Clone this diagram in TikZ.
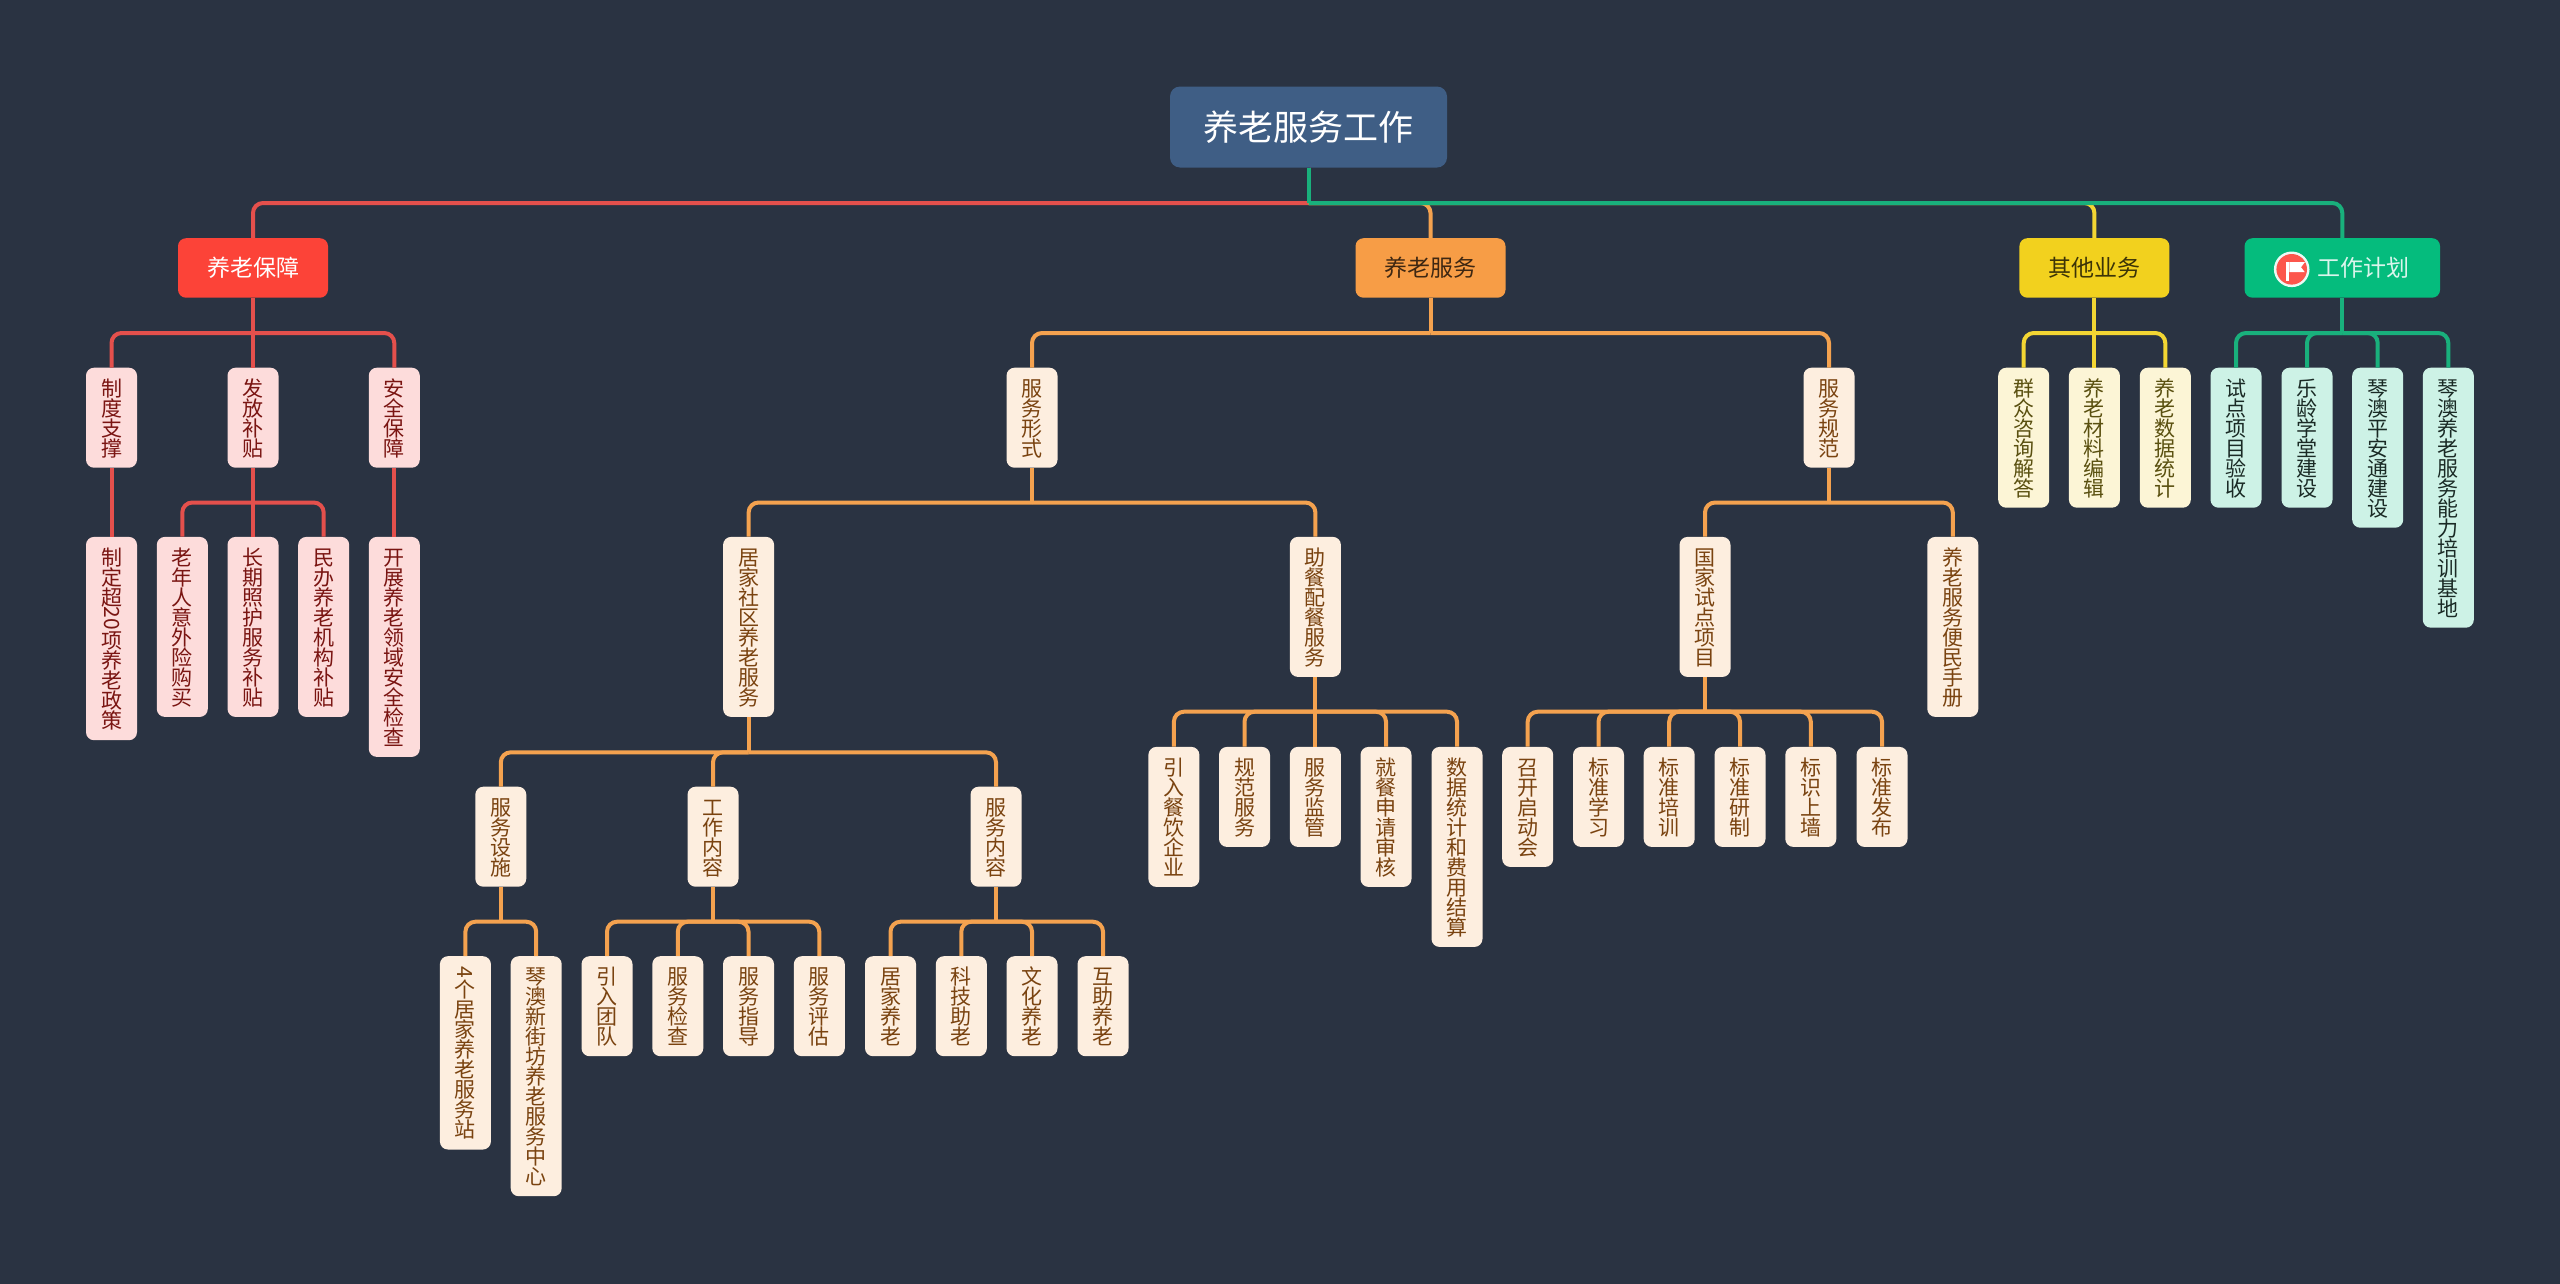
\documentclass[tikz,border=0pt]{standalone}
\usepackage{fontspec}
\setmainfont{Noto Sans CJK SC}
\makeatletter
\newcommand\vc[1]{\@tfor\vt@c:=#1\do{\hbox to 20pt{\hss\vrule width 0pt height 18.3pt depth 1.7pt\smash{\vt@c}\hss}}}
\makeatother
\newcommand\rotv[1]{\hbox to 20pt{\hss\rotatebox[origin=c]{-90}{#1}\hss}}
\newcommand\vs[1]{\vbox{\offinterlineskip #1}}
\newcommand\conn[4]{\draw[#1,sharp corners] (#2.south) -- (#2.south |- 0,#4);\draw[#1] (#2.south |- 0,#4) -- (#3.north |- 0,#4) -- (#3.north);}
\definecolor{bgc}{HTML}{2A3342}
\definecolor{rootc}{HTML}{3F5E85}
\definecolor{redn}{HTML}{FC4338}
\definecolor{orgn}{HTML}{F79D46}
\definecolor{yeln}{HTML}{F2D11E}
\definecolor{grnn}{HTML}{05BC7D}
\definecolor{redl}{HTML}{E4504C}
\definecolor{orgl}{HTML}{F4A24F}
\definecolor{yell}{HTML}{F3D633}
\definecolor{grnl}{HTML}{19B07C}
\definecolor{leafr}{HTML}{FDDCDB}
\definecolor{leafrt}{HTML}{7A1512}
\definecolor{leafo}{HTML}{FDEEDF}
\definecolor{leafot}{HTML}{7A4310}
\definecolor{leafy}{HTML}{FCF5D6}
\definecolor{leafyt}{HTML}{5A5010}
\definecolor{leafg}{HTML}{CDF2E6}
\definecolor{leafgt}{HTML}{1A2A25}
\tikzset{
  x=1pt,y=-1pt,
  rootbox/.style={fill=rootc,text=white,rounded corners=10pt,minimum width=277pt,minimum height=81pt,inner sep=0pt,font=\fontsize{35}{35}\selectfont},
  mainbox/.style={rounded corners=8pt,minimum width=150pt,minimum height=59.5pt,inner sep=0pt,anchor=north,font=\fontsize{23}{23}\selectfont},
  leafbox/.style={rounded corners=8pt,minimum width=51pt,inner xsep=0pt,inner ysep=10pt,anchor=north,font=\fontsize{21}{20}\selectfont},
  lfr/.style={leafbox,fill=leafr,text=leafrt},
  lfo/.style={leafbox,fill=leafo,text=leafot},
  lfy/.style={leafbox,fill=leafy,text=leafyt},
  lfg/.style={leafbox,fill=leafg,text=leafgt},
  linkr/.style={redl,line width=4pt,rounded corners=10pt},
  linko/.style={orgl,line width=4pt,rounded corners=10pt},
  linky/.style={yell,line width=4pt,rounded corners=10pt},
  linkg/.style={grnl,line width=4pt,rounded corners=10pt},
}
\begin{document}
\begin{tikzpicture}
\useasboundingbox (0,0) rectangle (2560,1283);
\fill[bgc] (-3,-3) rectangle (2563,1286);
% root and main
\node[rootbox] (root) at (1308.5,127) {养老服务工作};
\node[mainbox,fill=redn,text=white] (ma) at (253,238) {养老保障};
\node[mainbox,fill=orgn,text=black!75!orgn] (mb) at (1430.5,238) {养老服务};
\node[mainbox,fill=yeln,text=black!75!yeln] (mc) at (2094.4,238) {其他业务};
\node[mainbox,fill=grnn,text=white!85!grnn,minimum width=195.5pt] (md) at (2342.3,238) {\hspace*{42.4pt}工作计划};
% red
\node[lfr] (a1) at (111.5,367.5) {\vs{\vc{制度支撑}}};
\node[lfr] (a2) at (253,367.5) {\vs{\vc{发放补贴}}};
\node[lfr] (a3) at (394.3,367.5) {\vs{\vc{安全保障}}};
\node[lfr] (a11) at (111.5,536.7) {\vs{\vc{制定超}\rotv{20}\vc{项养老政策}}};
\node[lfr] (a21) at (182.3,536.7) {\vs{\vc{老年人意外险购买}}};
\node[lfr] (a22) at (253,536.7) {\vs{\vc{长期照护服务补贴}}};
\node[lfr] (a23) at (323.7,536.7) {\vs{\vc{民办养老机构补贴}}};
\node[lfr] (a31) at (394.3,536.7) {\vs{\vc{开展养老领域安全检查}}};
% orange
\node[lfo] (b1) at (1032,367.5) {\vs{\vc{服务形式}}};
\node[lfo] (b2) at (1829,367.5) {\vs{\vc{服务规范}}};
\node[lfo] (b11) at (748.6,536.7) {\vs{\vc{居家社区养老服务}}};
\node[lfo] (b12) at (1315.4,536.7) {\vs{\vc{助餐配餐服务}}};
\node[lfo] (b21) at (1705,536.7) {\vs{\vc{国家试点项目}}};
\node[lfo] (b22) at (1952.8,536.7) {\vs{\vc{养老服务便民手册}}};
\node[lfo] (c1) at (500.8,786.5) {\vs{\vc{服务设施}}};
\node[lfo] (c2) at (713,786.5) {\vs{\vc{工作内容}}};
\node[lfo] (c3) at (996,786.5) {\vs{\vc{服务内容}}};
\node[lfo] (c11) at (465.4,956) {\vs{\rotv{4}\vc{个居家养老服务站}}};
\node[lfo] (c12) at (536.2,956) {\vs{\vc{琴澳新街坊养老服务中心}}};
\node[lfo] (c21) at (607,956) {\vs{\vc{引入团队}}};
\node[lfo] (c22) at (677.8,956) {\vs{\vc{服务检查}}};
\node[lfo] (c23) at (748.5,956) {\vs{\vc{服务指导}}};
\node[lfo] (c24) at (819.3,956) {\vs{\vc{服务评估}}};
\node[lfo] (c31) at (890.5,956) {\vs{\vc{居家养老}}};
\node[lfo] (c32) at (961.3,956) {\vs{\vc{科技助老}}};
\node[lfo] (c33) at (1032,956) {\vs{\vc{文化养老}}};
\node[lfo] (c34) at (1103,956) {\vs{\vc{互助养老}}};
\node[lfo] (d1) at (1173.9,746.7) {\vs{\vc{引入餐饮企业}}};
\node[lfo] (d2) at (1244.5,746.7) {\vs{\vc{规范服务}}};
\node[lfo] (d3) at (1315.4,746.7) {\vs{\vc{服务监管}}};
\node[lfo] (d4) at (1386,746.7) {\vs{\vc{就餐申请审核}}};
\node[lfo] (d5) at (1457,746.7) {\vs{\vc{数据统计和费用结算}}};
\node[lfo] (e1) at (1527.7,746.7) {\vs{\vc{召开启动会}}};
\node[lfo] (e2) at (1598.5,746.7) {\vs{\vc{标准学习}}};
\node[lfo] (e3) at (1669.2,746.7) {\vs{\vc{标准培训}}};
\node[lfo] (e4) at (1740,746.7) {\vs{\vc{标准研制}}};
\node[lfo] (e5) at (1810.8,746.7) {\vs{\vc{标识上墙}}};
\node[lfo] (e6) at (1882,746.7) {\vs{\vc{标准发布}}};
% yellow
\node[lfy] (f1) at (2023.7,367.5) {\vs{\vc{群众咨询解答}}};
\node[lfy] (f2) at (2094.4,367.5) {\vs{\vc{养老材料编辑}}};
\node[lfy] (f3) at (2165.3,367.5) {\vs{\vc{养老数据统计}}};
% green
\node[lfg] (g1) at (2236,367.5) {\vs{\vc{试点项目验收}}};
\node[lfg] (g2) at (2307,367.5) {\vs{\vc{乐龄学堂建设}}};
\node[lfg] (g3) at (2377.7,367.5) {\vs{\vc{琴澳平安通建设}}};
\node[lfg] (g4) at (2448.3,367.5) {\vs{\vc{琴澳养老服务能力培训基地}}};
% connectors
\conn{linkr}{root}{ma}{203}
\conn{linko}{root}{mb}{203}
\conn{linky}{root}{mc}{203}
\conn{linkg}{root}{md}{203}
\conn{linkr}{ma}{a1}{333}
\conn{linkr}{ma}{a2}{333}
\conn{linkr}{ma}{a3}{333}
\draw[linkr] (a1) -- (a11);
\draw[linkr] (a3) -- (a31);
\conn{linkr}{a2}{a21}{502.5}
\conn{linkr}{a2}{a22}{502.5}
\conn{linkr}{a2}{a23}{502.5}
\conn{linko}{mb}{b1}{333}
\conn{linko}{mb}{b2}{333}
\conn{linko}{b1}{b11}{502.5}
\conn{linko}{b1}{b12}{502.5}
\conn{linko}{b2}{b21}{502.5}
\conn{linko}{b2}{b22}{502.5}
\conn{linko}{b11}{c1}{752.3}
\conn{linko}{b11}{c2}{752.3}
\conn{linko}{b11}{c3}{752.3}
\conn{linko}{c1}{c11}{921.7}
\conn{linko}{c1}{c12}{921.7}
\conn{linko}{c2}{c21}{921.7}
\conn{linko}{c2}{c22}{921.7}
\conn{linko}{c2}{c23}{921.7}
\conn{linko}{c2}{c24}{921.7}
\conn{linko}{c3}{c31}{921.7}
\conn{linko}{c3}{c32}{921.7}
\conn{linko}{c3}{c33}{921.7}
\conn{linko}{c3}{c34}{921.7}
\conn{linko}{b12}{d1}{711.7}
\conn{linko}{b12}{d2}{711.7}
\conn{linko}{b12}{d3}{711.7}
\conn{linko}{b12}{d4}{711.7}
\conn{linko}{b12}{d5}{711.7}
\conn{linko}{b21}{e1}{711.7}
\conn{linko}{b21}{e2}{711.7}
\conn{linko}{b21}{e3}{711.7}
\conn{linko}{b21}{e4}{711.7}
\conn{linko}{b21}{e5}{711.7}
\conn{linko}{b21}{e6}{711.7}
\conn{linky}{mc}{f1}{333}
\conn{linky}{mc}{f2}{333}
\conn{linky}{mc}{f3}{333}
\conn{linkg}{md}{g1}{333}
\conn{linkg}{md}{g2}{333}
\conn{linkg}{md}{g3}{333}
\conn{linkg}{md}{g4}{333}
% flag icon
\fill[white!92!grnn] (2291.7,269.3) circle[radius=17.8];
\fill[redn!90!white] (2291.7,269.3) circle[radius=15.3];
\fill[white] (2286.2,262.2) rectangle (2289.4,280.5);
\fill[white] (2289.4,262.2) -- (2304.8,262.2) -- (2301,267.2) -- (2304.8,272.2) -- (2289.4,272.2) -- cycle;
\end{tikzpicture}
\end{document}
